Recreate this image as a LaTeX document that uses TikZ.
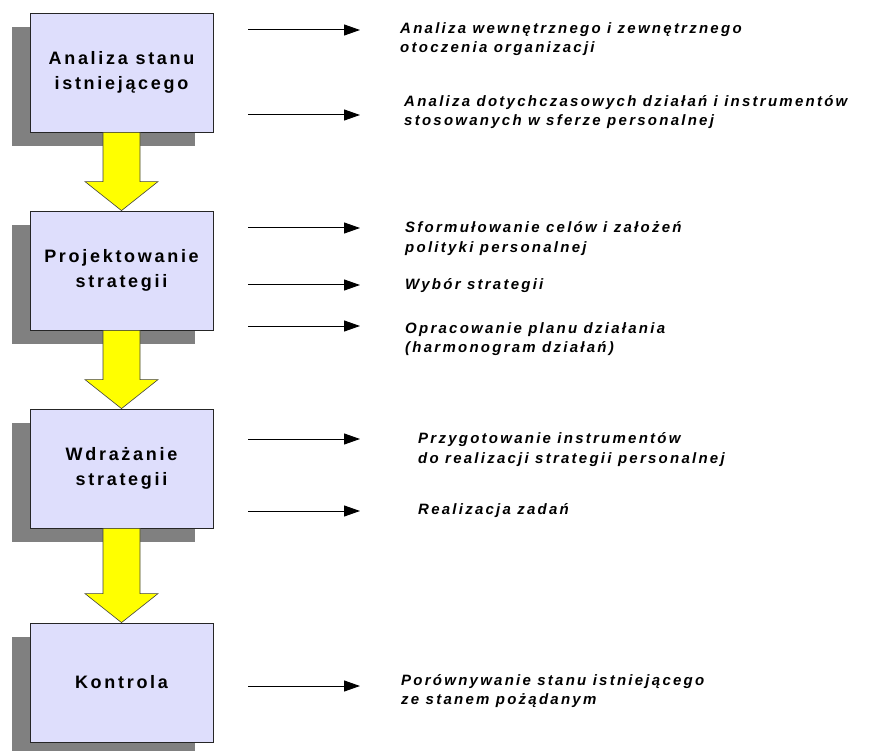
\documentclass[tikz,border=0pt]{standalone}
\usepackage{fontspec}
\usetikzlibrary{shadows,arrows.meta,calc}
\newfontfamily\boxfont[LetterSpace=15]{Liberation Sans}
\newfontfamily\itemfont[LetterSpace=15]{Liberation Sans}
\definecolor{boxfill}{RGB}{222,222,252}
\definecolor{shadowgray}{RGB}{128,128,128}
\definecolor{yellowfill}{RGB}{255,255,0}
\begin{document}
\begin{tikzpicture}[x=1pt,y=-1pt,
  stagebox/.style={draw=black!85, line width=0.8pt, fill=boxfill,
    minimum width=183pt, minimum height=119pt, inner sep=0pt, align=center,
    font=\boxfont\bfseries\fontsize{18}{25}\selectfont,
    drop shadow={shadow xshift=-18pt, shadow yshift=-14pt, fill=shadowgray, opacity=1}},
  yarrow/.style={fill=yellowfill, draw=black!75, line width=0.6pt, line join=miter},
  harrow/.style={draw=black, line width=1pt, -{Triangle[length=16pt,width=11pt]}},
  itemtext/.style={anchor=base west, inner sep=0pt,
    font=\itemfont\bfseries\itshape\fontsize{15}{19}\selectfont}
]
\useasboundingbox (0,0) rectangle (875,751);

% stage boxes
\node[stagebox] (b1) at (121.5,72.5) {Analiza stanu\\istniejącego};
\node[stagebox] (b2) at (121.5,270.5) {Projektowanie\\strategii};
\node[stagebox] (b3) at (121.5,468.5) {Wdrażanie\\strategii};
\node[stagebox] (b4) at (121.5,682.5) {Kontrola};

% yellow block arrows between stages
\foreach \a/\b in {b1/b2,b2/b3,b3/b4}{
  \draw[yarrow] ($(\a.south)+(-18.5,0)$) -- ($(\b.north)+(-18.5,-29)$)
    -- ($(\b.north)+(-36.5,-29)$) -- (\b.north) -- ($(\b.north)+(36.5,-29)$)
    -- ($(\b.north)+(18.5,-29)$) -- ($(\a.south)+(18.5,0)$) -- cycle;
}

% horizontal arrows
\foreach \n/\y in {h1/30,h2/115,h3/228,h4/285,h5/326,h6/439,h7/511,h8/686}{
  \coordinate (\n s) at (248,\y);
  \coordinate (\n e) at (360,\y);
  \draw[harrow] (\n s) -- (\n e);
}

% descriptions
\node[itemtext] (t1a) at (400,34) {Analiza wewnętrznego i zewnętrznego};
\node[itemtext] (t1b) at (400,53) {otoczenia organizacji};
\node[itemtext] (t2a) at (404,107) {Analiza dotychczasowych działań i instrumentów};
\node[itemtext] (t2b) at (404,126) {stosowanych w sferze personalnej};
\node[itemtext] (t3a) at (405,233) {Sformułowanie celów i założeń};
\node[itemtext] (t3b) at (405,253) {polityki personalnej};
\node[itemtext] (t4)  at (405,289) {Wybór strategii};
\node[itemtext] (t5a) at (405,333) {Opracowanie planu działania};
\node[itemtext] (t5b) at (405,352) {(harmonogram działań)};
\node[itemtext] (t6a) at (418,443) {Przygotowanie instrumentów};
\node[itemtext] (t6b) at (418,463) {do realizacji strategii personalnej};
\node[itemtext] (t7)  at (418,514) {Realizacja zadań};
\node[itemtext] (t8a) at (401,685) {Porównywanie stanu istniejącego};
\node[itemtext] (t8b) at (401,704) {ze stanem pożądanym};
\end{tikzpicture}
\end{document}
